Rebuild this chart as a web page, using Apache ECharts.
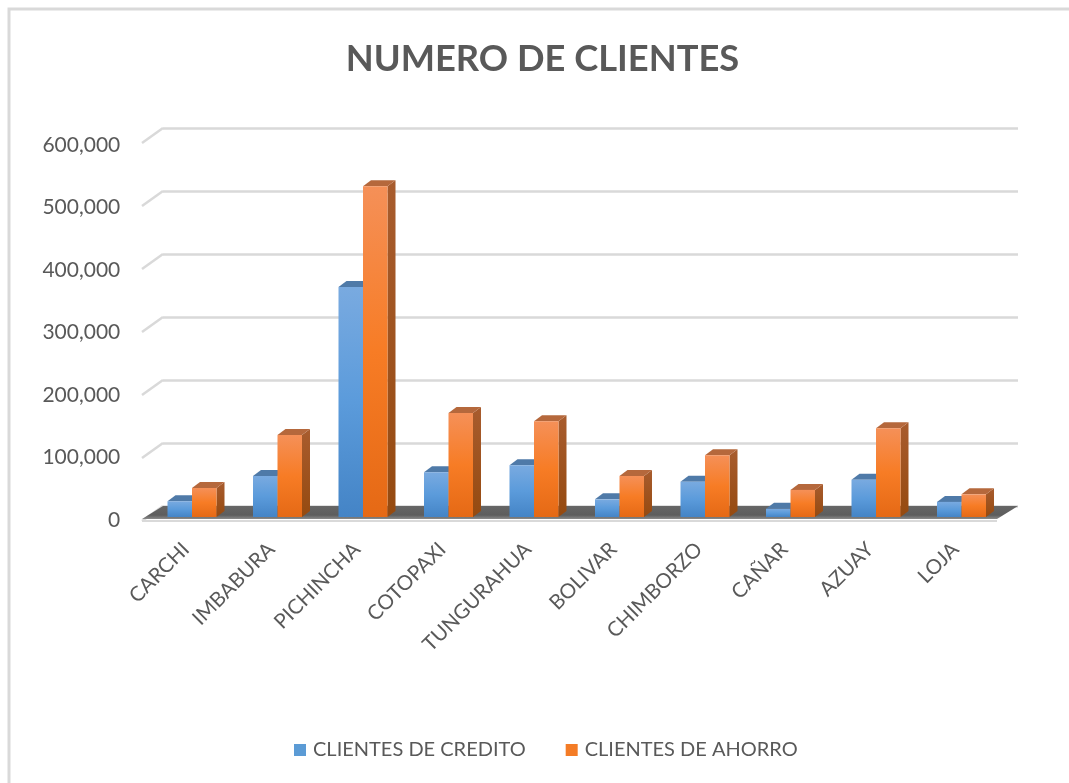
<!DOCTYPE html>
<html>
<head>
<meta charset="utf-8">
<script src="https://cdn.jsdelivr.net/npm/echarts@6/dist/echarts.min.js"></script>
<style>html,body{margin:0;padding:0;background:#fff}#c{width:1069px;height:783px}</style>
</head>
<body>
<div id="c"></div>
<script>
const categories = ['CARCHI','IMBABURA','PICHINCHA','COTOPAXI','TUNGURAHUA','BOLIVAR','CHIMBORZO','CAÑAR','AZUAY','LOJA'];
const clientesCredito = [25000,65000,365000,71000,82000,28000,56000,13000,59000,24000];
const clientesAhorro = [46000,130000,525000,165000,152000,65000,98000,43000,141000,36000];
const yTicks = [0,100000,200000,300000,400000,500000,600000];

const FONT = 'Lato, "Open Sans", sans-serif';
const TEXT = '#595959';
const GRID = '#d9d9d9';
const DEPTH_X = 8, DEPTH_Y = 6;          // bar depth
const BAR_W = 24.5, BAR_SHIFT = -13.75, BAR_DROP = 11; // bar position relative to the back wall
const WALL_X = 21, WALL_Y = 15;          // floor / wall depth

const vGrad = (a, b, c) => new echarts.graphic.LinearGradient(0,0,0,1,[
  {offset:0,color:a},{offset:0.5,color:b},{offset:1,color:c}]);

function barRenderer(side, pal) {
  return function (params, api) {
    const cat = api.value(0), val = api.value(1);
    const top = api.coord([cat, val]), base = api.coord([cat, 0]);
    const xc = top[0] + BAR_SHIFT;
    const x0 = side < 0 ? xc - BAR_W : xc, x1 = x0 + BAR_W;
    const yT = top[1] + BAR_DROP, yB = base[1] + BAR_DROP;
    return {type:'group', children:[
      {type:'polygon', shape:{points:[[x1,yT],[x1+DEPTH_X,yT-DEPTH_Y],[x1+DEPTH_X,yB-DEPTH_Y],[x1,yB]]},
        style:{fill:new echarts.graphic.LinearGradient(0,0,0,1,[{offset:0,color:pal.side0},{offset:1,color:pal.side1}])}},
      {type:'polygon', shape:{points:[[x0,yT],[x0+DEPTH_X,yT-DEPTH_Y],[x1+DEPTH_X,yT-DEPTH_Y],[x1,yT]]},
        style:{fill:pal.top}},
      {type:'rect', shape:{x:x0,y:yT,width:BAR_W,height:yB-yT},
        style:{fill:vGrad(pal.a,pal.b,pal.c)}}
    ]};
  };
}
const blue = {a:'#79aae0',b:'#5b9bdb',c:'#4484c6',side0:'#41719c',side1:'#2e5c88',top:'#4f7aa8'};
const orange = {a:'#f59058',b:'#f77c25',c:'#e56915',side0:'#a85c2e',side1:'#954a10',top:'#b5683c'};

const option = {
  animation:false,
  backgroundColor:'#fff',
  title:{text:'NUMERO DE CLIENTES', left:537.5, top:36, textAlign:'center',
    textStyle:{fontFamily:FONT,fontSize:36.3,fontWeight:'bold',color:TEXT}},
  legend:{data:['CLIENTES DE CREDITO','CLIENTES DE AHORRO'], left:289, top:735, itemWidth:12, itemHeight:12, itemGap:40,
    icon:'rect', textStyle:{fontFamily:FONT,fontSize:20,color:TEXT,padding:[0,0,0,2]}},
  grid:[
    {left:163, width:855, top:128, height:378},
    {left:143.25, width:855, top:145, height:375}
  ],
  xAxis:[
    {type:'category', gridIndex:0, data:categories, show:false},
    {type:'category', gridIndex:1, data:categories, axisLine:{show:false}, axisTick:{show:false},
      axisLabel:{rotate:45, interval:0, margin:26, fontFamily:FONT, fontSize:20.5, color:TEXT}}
  ],
  yAxis:[
    {type:'value', gridIndex:0, min:0, max:600000, interval:100000,
      axisLine:{show:false}, axisTick:{show:false}, axisLabel:{show:false},
      splitLine:{lineStyle:{color:GRID,width:2.5}}},
    {type:'value', gridIndex:1, min:0, max:600000, interval:100000,
      axisLine:{show:false}, axisTick:{show:false}, splitLine:{show:false},
      axisLabel:{margin:23, fontFamily:FONT, fontSize:21, color:TEXT}}
  ],
  graphic:[{type:'polyline', silent:true, shape:{points:[[9,783],[9,9],[1069,9]]},
    style:{stroke:GRID,lineWidth:3,fill:null}, z:-1}],
  series:[
    {type:'custom', name:'walls', xAxisIndex:0, yAxisIndex:0, coordinateSystem:'cartesian2d', silent:true, z:1,
      data:yTicks.map(v=>[0,v]),
      encode:{x:0,y:1},
      renderItem:function(params,api){
        const y = api.coord([0,api.value(1)])[1], x = params.coordSys.x;
        return {type:'line', shape:{x1:x,y1:y,x2:x-WALL_X,y2:y+WALL_Y}, style:{stroke:GRID,lineWidth:2.5}};
      }},
    {type:'custom', name:'floor', xAxisIndex:0, yAxisIndex:0, coordinateSystem:'cartesian2d', silent:true, z:2,
      data:[[0,0]],
      encode:{x:0,y:1},
      renderItem:function(params,api){
        const y = api.coord([0,0])[1], cs = params.coordSys, x0 = cs.x, x1 = cs.x+cs.width;
        return {type:'group', children:[
          {type:'polygon', shape:{points:[[x0,y],[x1,y],[x1-WALL_X,y+WALL_Y-2],[x0-WALL_X,y+WALL_Y-2]]},
            style:{fill:new echarts.graphic.LinearGradient(0,0,0,1,[{offset:0,color:'#666666'},{offset:0.7,color:'#5d5d5d'},{offset:1,color:'#8a8a8a'}])}},
          {type:'line', shape:{x1:x0-WALL_X,y1:y+WALL_Y,x2:x1-WALL_X,y2:y+WALL_Y}, style:{stroke:GRID,lineWidth:2}}
        ]};
      }},
    {type:'custom', name:'CLIENTES DE CREDITO', xAxisIndex:0, yAxisIndex:0, coordinateSystem:'cartesian2d', z:3,
      data:clientesCredito.map((v,i)=>[i,v]), encode:{x:0,y:1},
      itemStyle:{color:'#5b9bd5'},
      renderItem:barRenderer(-1,blue)},
    {type:'custom', name:'CLIENTES DE AHORRO', xAxisIndex:0, yAxisIndex:0, coordinateSystem:'cartesian2d', z:4,
      data:clientesAhorro.map((v,i)=>[i,v]), encode:{x:0,y:1},
      itemStyle:{color:'#f47c26'},
      renderItem:barRenderer(1,orange)}
  ]
};
const chart = echarts.init(document.getElementById('c'), null, {renderer:'canvas'});
chart.setOption(option);
</script>
</body>
</html>
